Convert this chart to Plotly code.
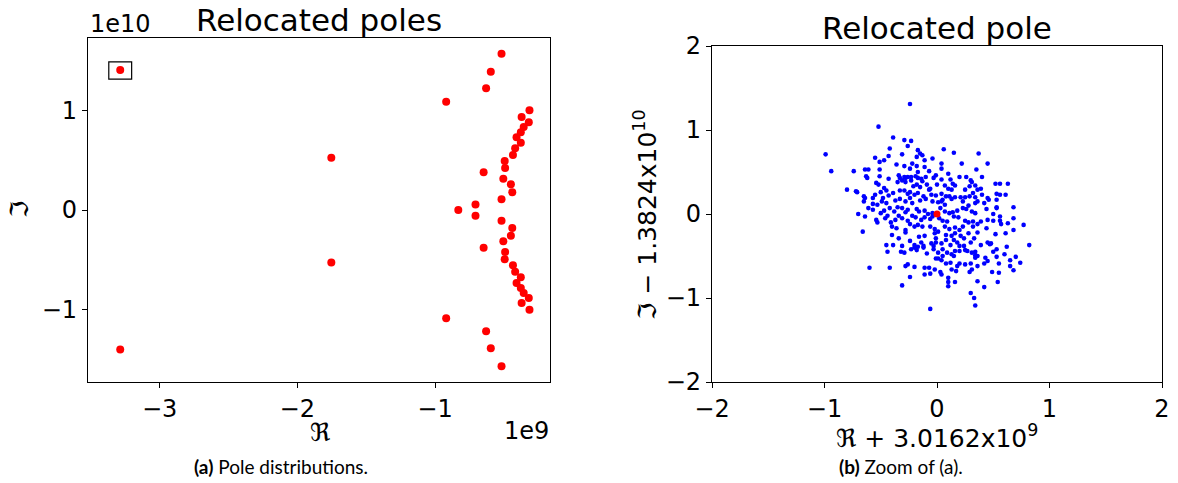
import plotly.graph_objects as go

W, H = 1178, 483

# ---------------- Left panel: relocated poles ----------------
# real part in units of 1e9, imaginary part in units of 1e10
poles_re_e9 = [-3.286, -3.286, -1.753, -1.753, -0.919, -0.919, -0.517, -0.517,
               -0.595, -0.595, -0.629, -0.629, -0.314, -0.314, -0.319, -0.319,
               -0.371, -0.371, -0.356, -0.356, -0.377, -0.377, -0.408, -0.408,
               -0.377, -0.377, -0.418, -0.418, -0.434, -0.434, -0.494, -0.494,
               -0.491, -0.491, -0.647, -0.647, -0.504, -0.504, -0.449, -0.449,
               -0.439, -0.439, -0.517, -0.517, -0.706, -0.706, -0.831]
poles_im_e10 = [1.405, -1.401, 0.525, -0.528, 1.087, -1.087, 1.569, -1.569,
                1.388, -1.388, 1.221, -1.217, 1.000, -1.000, 0.880, -0.883,
                0.933, -0.933, 0.833, -0.833, 0.779, -0.783, 0.729, -0.732,
                0.676, -0.676, 0.619, -0.619, 0.552, -0.555, 0.492, -0.495,
                0.421, -0.421, 0.378, -0.378, 0.314, -0.314, 0.258, -0.258,
                0.177, -0.181, 0.107, -0.107, 0.054, -0.057, 0.000]

# highlighted (framed) pole and its frame half-sizes
hl_re, hl_im = -3.286, 1.400
frame_dx, frame_dy = 0.083, 0.086

# ---------------- Right panel: zoom around the relocated pole ----------------
zoom_re = [-0.24, -0.52, -0.39, -0.29, -0.23, -0.26, 0.06, 0.15, 0.37, -0.17,
           -0.15, -0.42, -0.99, -0.94, -0.55, -0.51, -0.47, -0.43, -0.31, -0.18,
           -0.13, -0.11, -0.04, 0.04, 0.22, 0.45, -0.36, -0.29, -0.22, -0.18,
           -0.29, -0.11, -0.74, -0.64, -0.61, -0.51, -0.24, -0.17, -0.07, 0.04,
           0.10, 0.20, 0.26, 0.35, 0.40, -0.63, -0.62, -0.51, -0.43, -0.34,
           -0.33, -0.28, -0.26, -0.23, -0.19, -0.17, -0.14, -0.10, -0.03, -0.01,
           0.04, 0.12, 0.14, 0.30, 0.31, -0.80, -0.72, -0.71, -0.54, -0.52,
           -0.47, -0.45, -0.35, -0.31, -0.28, -0.23, -0.21, -0.18, -0.15, -0.13,
           -0.09, -0.07, 0.00, 0.07, 0.10, 0.13, 0.16, 0.25, 0.29, 0.34,
           0.36, 0.39, 0.52, 0.56, 0.63, -0.65, -0.64, -0.57, -0.55, -0.50,
           -0.48, -0.43, -0.39, -0.33, -0.29, -0.26, -0.24, -0.20, -0.17, -0.12,
           -0.06, -0.05, -0.01, 0.04, 0.05, 0.08, 0.11, 0.16, 0.21, 0.25,
           0.29, 0.32, 0.34, 0.40, 0.45, 0.53, 0.56, 0.61, -0.65, -0.57,
           -0.53, -0.49, -0.45, -0.37, -0.33, -0.28, -0.24, -0.22, -0.15, -0.10,
           -0.04, 0.01, 0.04, 0.07, 0.13, 0.23, 0.28, 0.34, 0.36, 0.42,
           0.46, 0.53, 0.53, 0.68, -0.70, -0.61, -0.57, -0.50, -0.47, -0.42,
           -0.38, -0.35, -0.31, -0.28, -0.26, -0.18, -0.16, -0.11, -0.08, -0.04,
           0.03, 0.07, 0.11, 0.14, 0.18, 0.23, 0.26, 0.31, 0.34, 0.44,
           0.50, 0.53, 0.56, 0.68, -0.64, -0.54, -0.53, -0.46, -0.44, -0.41,
           -0.37, -0.34, -0.31, -0.26, -0.22, -0.19, -0.14, -0.11, -0.06, -0.04,
           0.02, 0.05, 0.09, 0.15, 0.19, 0.25, 0.28, 0.32, 0.36, 0.39,
           0.45, 0.50, 0.56, 0.57, 0.63, 0.77, -0.66, -0.40, -0.36, -0.28,
           -0.24, -0.20, -0.17, -0.13, -0.06, -0.02, 0.01, 0.07, 0.11, 0.16,
           0.20, 0.23, 0.32, 0.36, 0.44, 0.52, 0.61, 0.68, -0.40, -0.34,
           -0.28, -0.16, -0.11, -0.02, -0.01, 0.08, 0.13, 0.16, 0.21, 0.24,
           0.28, 0.33, 0.39, 0.45, 0.48, 0.82, -0.45, -0.39, -0.31, -0.24,
           -0.20, -0.17, -0.14, -0.12, -0.05, -0.03, -0.01, 0.04, 0.08, 0.12,
           0.15, 0.18, 0.20, 0.24, 0.25, 0.30, 0.34, 0.47, 0.50, 0.53,
           0.62, -0.44, -0.32, -0.29, -0.23, -0.20, -0.18, -0.12, -0.09, -0.03,
           0.01, 0.05, 0.09, 0.13, 0.16, 0.20, 0.27, 0.31, 0.34, 0.36,
           0.43, 0.53, 0.60, 0.65, 0.70, -0.60, -0.42, -0.28, -0.26, -0.20,
           -0.11, -0.07, -0.01, 0.01, 0.05, 0.04, 0.08, 0.12, 0.15, 0.18,
           0.20, 0.25, 0.30, 0.34, 0.36, 0.42, 0.45, 0.55, 0.65, 0.68,
           0.74, -0.31, -0.24, -0.11, -0.06, -0.02, 0.03, 0.04, 0.10, 0.10,
           0.13, 0.17, 0.16, 0.29, 0.31, 0.36, 0.42, 0.49, 0.54, 0.55,
           0.30, 0.33, 0.34, -0.06, 0.10]
zoom_im = [1.31, 1.04, 0.91, 0.88, 0.87, 0.81, 0.77, 0.73, 0.72, 0.76,
           0.72, 0.78, 0.71, 0.51, 0.67, 0.62, 0.64, 0.69, 0.71, 0.68,
           0.70, 0.64, 0.66, 0.60, 0.60, 0.60, 0.59, 0.57, 0.60, 0.57,
           0.44, 0.56, 0.51, 0.53, 0.53, 0.53, 0.54, 0.50, 0.51, 0.54,
           0.48, 0.44, 0.44, 0.53, 0.44, 0.45, 0.43, 0.45, 0.42, 0.46,
           0.43, 0.43, 0.44, 0.44, 0.45, 0.43, 0.42, 0.44, 0.43, 0.46,
           0.41, 0.41, 0.36, 0.40, 0.38, 0.29, 0.27, 0.26, 0.37, 0.35,
           0.31, 0.28, 0.38, 0.40, 0.38, 0.40, 0.33, 0.35, 0.32, 0.39,
           0.35, 0.29, 0.35, 0.34, 0.30, 0.29, 0.34, 0.29, 0.33, 0.34,
           0.29, 0.30, 0.36, 0.36, 0.36, 0.21, 0.19, 0.19, 0.23, 0.26,
           0.19, 0.22, 0.25, 0.28, 0.28, 0.24, 0.26, 0.23, 0.25, 0.21,
           0.30, 0.23, 0.22, 0.24, 0.17, 0.21, 0.21, 0.20, 0.20, 0.20,
           0.21, 0.25, 0.20, 0.23, 0.19, 0.24, 0.23, 0.23, 0.15, 0.12,
           0.11, 0.15, 0.13, 0.16, 0.18, 0.15, 0.19, 0.13, 0.16, 0.18,
           0.15, 0.14, 0.15, 0.11, 0.18, 0.15, 0.10, 0.13, 0.15, 0.13,
           0.17, 0.17, 0.07, 0.08, 0.00, 0.07, 0.05, 0.01, 0.04, 0.07,
           0.03, 0.08, 0.07, 0.02, 0.05, 0.06, 0.03, 0.04, 0.00, 0.01,
           0.07, 0.03, 0.01, 0.02, 0.04, 0.07, 0.06, 0.03, 0.01, 0.06,
           0.00, 0.08, -0.03, -0.05, -0.03, -0.07, -0.10, -0.05, -0.02, -0.10,
           -0.07, -0.02, -0.05, -0.08, -0.02, -0.04, -0.07, -0.04, -0.06, -0.03,
           -0.05, -0.08, -0.09, -0.03, -0.04, -0.08, -0.10, -0.09, -0.12, -0.09,
           -0.07, -0.08, -0.08, -0.12, -0.11, -0.13, -0.21, -0.15, -0.17, -0.19,
           -0.12, -0.15, -0.13, -0.15, -0.15, -0.18, -0.21, -0.15, -0.18, -0.16,
           -0.19, -0.15, -0.15, -0.22, -0.17, -0.24, -0.23, -0.19, -0.25, -0.29,
           -0.22, -0.27, -0.26, -0.23, -0.29, -0.25, -0.26, -0.23, -0.26, -0.29,
           -0.23, -0.29, -0.37, -0.34, -0.35, -0.37, -0.37, -0.37, -0.38, -0.32,
           -0.37, -0.39, -0.34, -0.40, -0.35, -0.38, -0.34, -0.35, -0.31, -0.37,
           -0.31, -0.34, -0.38, -0.38, -0.43, -0.34, -0.45, -0.36, -0.45, -0.42,
           -0.39, -0.45, -0.45, -0.46, -0.42, -0.40, -0.43, -0.38, -0.47, -0.42,
           -0.46, -0.42, -0.46, -0.48, -0.44, -0.44, -0.44, -0.46, -0.49, -0.50,
           -0.52, -0.51, -0.48, -0.55, -0.51, -0.64, -0.64, -0.62, -0.60, -0.63,
           -0.64, -0.64, -0.53, -0.53, -0.50, -0.55, -0.59, -0.58, -0.50, -0.62,
           -0.59, -0.60, -0.59, -0.52, -0.62, -0.59, -0.56, -0.59, -0.62, -0.67,
           -0.58, -0.85, -0.75, -0.72, -0.71, -0.66, -0.69, -0.72, -0.76, -0.81,
           -0.66, -0.68, -0.81, -0.69, -0.66, -0.80, -0.87, -0.69, -0.81, -0.70,
           -0.94, -1.00, -1.09, -1.13, -0.86]
center_re = [0.0]
center_im = [0.0]

# x/y tick values
left_xticks = [-3, -2, -1]
left_yticks = [-1, 0, 1]
right_ticks = [-2, -1, 0, 1, 2]

FONT = "DejaVu Sans"

fig = go.Figure()
fig.add_trace(go.Scatter(x=poles_re_e9, y=poles_im_e10, mode="markers",
                         marker=dict(color="red", size=8), xaxis="x", yaxis="y",
                         showlegend=False, hoverinfo="skip"))
fig.add_trace(go.Scatter(x=zoom_re, y=zoom_im, mode="markers",
                         marker=dict(color="blue", size=4.6), xaxis="x2", yaxis="y2",
                         showlegend=False, hoverinfo="skip"))
fig.add_trace(go.Scatter(x=center_re, y=center_im, mode="markers",
                         marker=dict(color="red", size=7), xaxis="x2", yaxis="y2",
                         showlegend=False, hoverinfo="skip"))

fig.add_shape(type="rect", xref="x", yref="y",
              x0=hl_re - frame_dx, x1=hl_re + frame_dx,
              y0=hl_im - frame_dy, y1=hl_im + frame_dy,
              line=dict(color="black", width=1.2))

axis_common = dict(showline=True, mirror=True, linecolor="black", linewidth=1.2,
                   ticks="outside", ticklen=5, tickwidth=1.2, tickcolor="black",
                   showgrid=False, zeroline=False, automargin=False,
                   tickfont=dict(family=FONT, size=24, color="black"))

def px_x(p):
    return p / W

def px_y(p):
    return 1 - p / H

fig.update_layout(
    width=W, height=H, autosize=False,
    margin=dict(l=0, r=0, t=0, b=0, autoexpand=False),
    paper_bgcolor="white", plot_bgcolor="white",
    xaxis=dict(domain=[px_x(88), px_x(550)], range=[-3.52, -0.165],
               tickvals=left_xticks, anchor="y", **axis_common),
    yaxis=dict(domain=[px_y(382), px_y(38)], range=[-1.726, 1.726],
               tickvals=left_yticks, anchor="x", **axis_common),
    xaxis2=dict(domain=[px_x(712), px_x(1162)], range=[-2, 2],
                tickvals=right_ticks, anchor="y2", **axis_common),
    yaxis2=dict(domain=[px_y(382), px_y(46)], range=[-2, 2],
                tickvals=right_ticks, anchor="x2", **axis_common),
)

def label(text, x, y, size=24, family=FONT, angle=0, xanchor="center"):
    fig.add_annotation(text=text, x=px_x(x), y=px_y(y), xref="paper", yref="paper",
                       showarrow=False, textangle=angle, xanchor=xanchor,
                       yanchor="middle",
                       font=dict(family=family, size=size, color="black"))

label("Relocated poles", 319, 20, size=31)
label("Relocated pole", 937, 28, size=31)
label("1e10", 88, 24, size=24, xanchor="left")
label("1e9", 551, 431, size=24, xanchor="right")
label("ℜ", 320, 432, size=25)
label("ℑ", 20, 210, size=25, angle=-90)
label("ℜ + 3.0162x10<sup>9</sup>", 937, 436, size=25)
label("ℑ − 1.3824x10<sup>10</sup>", 645, 215, size=25, angle=-90)
label("<b>(a)</b> Pole distributions.", 281, 466, size=19, family="Lato")
label("<b>(b)</b> Zoom of (a).", 901, 466, size=19, family="Lato")

fig.write_html("out.html")
